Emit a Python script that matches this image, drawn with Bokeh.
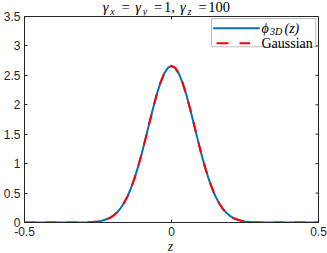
from bokeh.plotting import figure
from bokeh.models import FixedTicker, Label, BoxAnnotation, Arrow, Range1d, Div
from bokeh.layouts import column
from bokeh.embed import file_html
from bokeh.resources import INLINE

# ---- data ----
z_vals = [-0.5, -0.45, -0.4, -0.35, -0.3, -0.275, -0.25, -0.2375, -0.225, -0.2125,
          -0.2, -0.1875, -0.175, -0.1625, -0.15, -0.1375, -0.125, -0.1125, -0.1, -0.0875,
          -0.075, -0.0625, -0.05, -0.0375, -0.025, -0.0125, 0.0,
          0.0125, 0.025, 0.0375, 0.05, 0.0625, 0.075, 0.0875, 0.1, 0.1125,
          0.125, 0.1375, 0.15, 0.1625, 0.175, 0.1875, 0.2, 0.2125, 0.225,
          0.2375, 0.25, 0.275, 0.3, 0.35, 0.4, 0.45, 0.5]
phi_vals = [0.0, 0.0, 0.0, 0.0, 0.002, 0.006, 0.018, 0.029, 0.046, 0.072,
            0.108, 0.160, 0.230, 0.322, 0.440, 0.586, 0.762, 0.966, 1.195, 1.442,
            1.696, 1.946, 2.178, 2.377, 2.530, 2.627, 2.660,
            2.627, 2.530, 2.377, 2.178, 1.946, 1.696, 1.442, 1.195, 0.966,
            0.762, 0.586, 0.440, 0.322, 0.230, 0.160, 0.108, 0.072, 0.046,
            0.029, 0.018, 0.006, 0.002, 0.0, 0.0, 0.0, 0.0]
gauss_vals = [0.0, 0.0, 0.0, 0.0, 0.002, 0.006, 0.018, 0.029, 0.046, 0.072,
              0.108, 0.160, 0.230, 0.322, 0.440, 0.586, 0.762, 0.966, 1.195, 1.442,
              1.696, 1.946, 2.178, 2.377, 2.530, 2.627, 2.660,
              2.627, 2.530, 2.377, 2.178, 1.946, 1.696, 1.442, 1.195, 0.966,
              0.762, 0.586, 0.440, 0.322, 0.230, 0.160, 0.108, 0.072, 0.046,
              0.029, 0.018, 0.006, 0.002, 0.0, 0.0, 0.0, 0.0]
x_ticks = [-0.5, 0.0, 0.5]
x_tick_labels = ["-0.5", "0", "0.5"]
y_ticks = [0.0, 0.5, 1.0, 1.5, 2.0, 2.5, 3.0, 3.5]
y_tick_labels = ["0", "0.5", "1", "1.5", "2", "2.5", "3", "3.5"]
legend_labels = ["Gaussian"]
x_axis_label = "z"

BLUE = "#0072BD"
RED = "#FF0000"
AX = "#262626"
SERIF = "Liberation Serif"
SANS = "Liberation Sans"

TOTAL_W, TOTAL_H = 327, 253
DIV_H = 10
ZDIV_H = 13
W, H = TOTAL_W, TOTAL_H - DIV_H - ZDIV_H
BL, BR, BT, BB = 23, 9, 6, 18
FW = W - BL - BR
FH = H - BT - BB
X0, X1, Y0, Y1 = -0.5, 0.5, 0.0, 3.5
TICK = 3

p = figure(width=W, height=H, x_range=Range1d(X0, X1), y_range=Range1d(Y0, Y1),
           output_backend="svg", toolbar_location=None,
           min_border_left=BL, min_border_right=BR, min_border_top=BT, min_border_bottom=BB)
p.grid.visible = False
p.background_fill_color = "white"
p.border_fill_color = None
p.outline_line_color = AX
p.outline_line_width = 1

p.line(z_vals, phi_vals, line_color=BLUE, line_width=2)
p.line(z_vals, gauss_vals, line_color=RED, line_width=2, line_dash="11 10")

def style(ax, ticks, labels):
    ax.ticker = FixedTicker(ticks=ticks)
    ax.major_label_overrides = {v: s for v, s in zip(ticks, labels)}
    ax.minor_tick_line_color = None
    ax.major_tick_in = TICK
    ax.major_tick_out = 0
    ax.axis_line_color = AX
    ax.major_tick_line_color = AX
    ax.major_label_standoff = 4
    ax.major_label_text_font = SANS
    ax.major_label_text_color = AX
    ax.major_label_text_font_size = "12px"

style(p.xaxis[0], x_ticks, x_tick_labels)
style(p.yaxis[0], y_ticks, y_tick_labels)

# mirrored ticks on the top and right edges of the box
dy = TICK * (Y1 - Y0) / FH
dx = TICK * (X1 - X0) / FW
p.segment(x0=x_ticks, x1=x_ticks, y0=[Y1] * len(x_ticks), y1=[Y1 - dy] * len(x_ticks),
          line_color=AX, line_width=1)
p.segment(x0=[X1] * len(y_ticks), x1=[X1 - dx] * len(y_ticks), y0=y_ticks, y1=y_ticks,
          line_color=AX, line_width=1)

# ---- legend ----
ll = 187
lr = 291.3
lt = FH - 2
lb = FH - 30.3
p.add_layout(BoxAnnotation(left=ll, right=lr, top=lt, bottom=lb,
                           left_units="screen", right_units="screen",
                           top_units="screen", bottom_units="screen",
                           fill_color="white", fill_alpha=1.0,
                           line_color=AX, line_width=1))
r1 = FH - 11.7
r2 = FH - 26.7
p.add_layout(Arrow(end=None, x_start=ll + 1.7, x_end=ll + 48.3, y_start=r1, y_end=r1,
                   start_units="screen", end_units="screen",
                   line_color=BLUE, line_width=2))
p.add_layout(Arrow(end=None, x_start=ll + 5, x_end=ll + 38.5, y_start=r2, y_end=r2,
                   start_units="screen", end_units="screen",
                   line_color=RED, line_width=2, line_dash="12 11"))
leg_parts = [
    ("ϕ", 50, r1, "14px", "italic"),
    ("3D", 58.5, r1 - 3, "10px", "italic"),
    ("(z)", 73, r1, "14px", "italic"),
    (legend_labels[0], 50, r2, "14px", "normal"),
]
for t, ddx, yy, fs, st in leg_parts:
    p.add_layout(Label(x=ll + ddx, y=yy, x_units="screen", y_units="screen", text=t,
                       text_font=SERIF, text_font_size=fs, text_font_style=st,
                       text_color="black", text_baseline="middle", text_align="left"))

# ---- title (real HTML text with subscripts) ----
# (text, left px, font-size px, style, top px)
title_parts = [
    ("γ", 102.7, 14.5, "italic", -1.6),
    ("x", 110.2, 10, "italic", 4.9),
    ("=", 121.5, 14.5, "normal", -1.6),
    ("γ", 135.3, 14.5, "italic", -1.6),
    ("y", 142.8, 10, "italic", 4.9),
    ("=", 154.1, 14.5, "normal", -1.6),
    ("1,", 163.9, 14.5, "normal", -1.6),
    ("γ", 180.0, 14.5, "italic", -1.6),
    ("z", 187.5, 10, "italic", 4.9),
    ("=", 198.5, 14.5, "normal", -1.6),
    ("100", 208.3, 14.5, "normal", -1.6),
]
spans = "".join(
    f'<span style="position:absolute;left:{x}px;top:{tp}px;font-size:{fs}px;'
    f'font-style:{st};line-height:1;white-space:nowrap;">{t}</span>'
    for t, x, fs, st, tp in title_parts
)
html = (f'<div style="position:relative;width:{TOTAL_W}px;height:{DIV_H}px;'
        f"font-family:'{SERIF}';color:black;overflow:visible;\">{spans}</div>")
title_div = Div(text=html, width=TOTAL_W, height=DIV_H, margin=(0, 0, 0, 0))

# ---- x-axis label under the figure ----
zhtml = (f'<div style="position:relative;width:{TOTAL_W}px;height:{ZDIV_H}px;'
         f"font-family:'{SERIF}';color:{AX};overflow:visible;\">"
         f'<span style="position:absolute;left:167.7px;top:0px;font-size:14px;'
         f'font-style:italic;line-height:1;white-space:nowrap;">{x_axis_label}</span></div>')
z_div = Div(text=zhtml, width=TOTAL_W, height=ZDIV_H, margin=(0, 0, 0, 0))

layout = column(title_div, p, z_div, spacing=0)
open("out.html", "w").write(file_html(layout, INLINE))
